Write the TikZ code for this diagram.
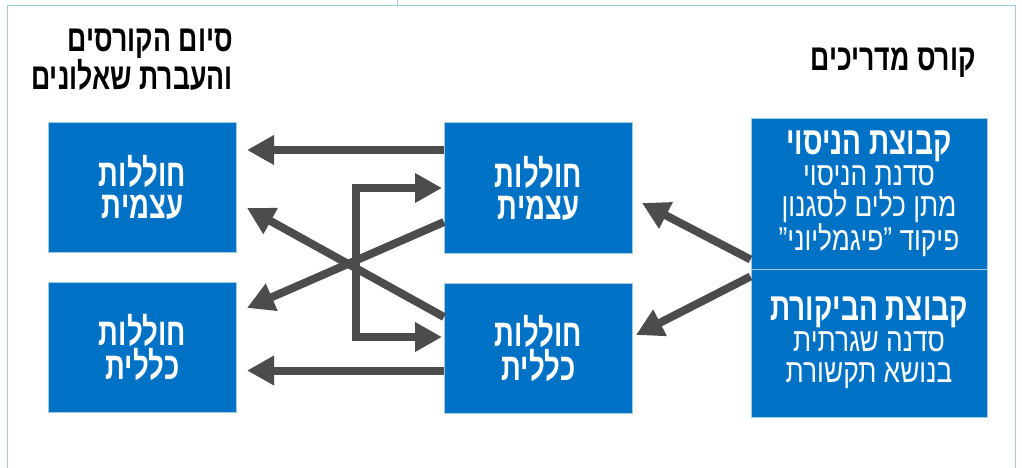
\documentclass[tikz,border=0pt]{standalone}
\usepackage{fontspec}
\usepackage{graphicx}
\setmainfont{Liberation Sans}
\newfontfamily\heb[Script=Hebrew]{Liberation Sans}
\TeXXeTstate=1
\usetikzlibrary{arrows.meta}
\newcommand\hb[2][0.92]{\scalebox{#1}[1.28]{\beginR#2\endR}}
\definecolor{boxblue}{RGB}{0,114,198}
\definecolor{framec}{RGB}{160,205,222}
\definecolor{arrowc}{RGB}{76,76,76}
\tikzset{
  bluebox/.style={draw=framec, line width=1pt, fill=boxblue, text=white,
    inner sep=0pt, align=center},
  smallbox/.style={bluebox, minimum width=188pt, minimum height=130pt,
    font=\heb\bfseries\fontsize{30}{32}\selectfont},
  groupbox/.style={bluebox, minimum width=236pt,
    font=\heb\fontsize{25.8}{31}\selectfont},
  headtext/.style={font=\heb\bfseries\fontsize{29}{35}\selectfont, text=black, inner sep=0pt},
  conn/.style={draw=arrowc, line width=8pt, line join=miter,
    -{Triangle[length=27pt,width=28pt]}},
  conn2/.style={draw=arrowc, line width=8pt, line join=miter,
    {Triangle[length=27pt,width=28pt]}-{Triangle[length=27pt,width=28pt]}},
}
\begin{document}
\begin{tikzpicture}[x=1pt,y=-1pt]
\useasboundingbox (0,0) rectangle (1022,468);
% frame
\draw[framec, line width=1pt] (7,468) -- (7,6) -- (1015,6) -- (1015,468);
\draw[framec, line width=1pt] (397,0) -- (397,6);

% headings
\node[headtext, anchor=east, align=right] (h1) at (233,60) {\hb{סיום הקורסים}\\\hb{והעברת שאלונים}};
\node[headtext, anchor=east] (h2) at (976,63) {\hb{קורס מדריכים}};

% boxes
\node[smallbox] (lt) at (142.5,187.5) {\hb{חוללות}\\\hb{עצמית}};
\node[smallbox] (lb) at (142.5,347.5) {\hb{חוללות}\\\hb{כללית}};
\node[smallbox] (mt) at (538.5,188) {\hb{חוללות}\\\hb{עצמית}};
\node[smallbox] (mb) at (538.5,348.5) {\hb{חוללות}\\\hb{כללית}};
\node[groupbox, minimum height=150pt] (rtop) at (869,194)
  {{\bfseries\fontsize{30.5}{31}\selectfont\hb{קבוצת הניסוי}}\\\hb[1.02]{סדנת הניסוי}\\\hb[1.02]{מתן כלים לסגנון}\\\hb[1.02]{פיקוד ”פיגמליוני”}};
\node[groupbox, minimum height=148pt] (rbot) at (869,343)
  {{\bfseries\fontsize{30.5}{31}\selectfont\hb{קבוצת הביקורת}}\\\hb[1.02]{סדנה שגרתית}\\\hb[1.02]{בנושא תקשורת}};

% arrows from the groups
\draw[conn] ([yshift=10pt]rtop.south west) -- ([xshift=9pt,yshift=-15pt]mt.east);
\draw[conn] ([yshift=-8pt]rbot.north west) -- ([xshift=3pt,yshift=13.5pt]mb.east);

% horizontal arrows
\coordinate (a1) at ([yshift=38pt]mt.west);
\coordinate (a2) at ([yshift=-22pt]mb.west);
\draw[conn] (a1) -- ([xshift=10pt]a1 -| lt.east);
\draw[conn] (a2) -- ([xshift=10pt]a2 -| lb.east);

% crossing arrows
\draw[conn] ([yshift=-34pt]mt.west) -- ([xshift=10pt,yshift=39.5pt]lb.east);
\draw[conn] ([yshift=31.5pt]mb.west) -- ([xshift=10pt,yshift=-20.5pt]lt.east);

% bracket
\coordinate (bx) at (356,0);
\draw[conn2, shorten <=2pt, shorten >=2pt] (mt.west) -- (mt.west -| bx) |- ([yshift=11.5pt]mb.west);
\end{tikzpicture}
\end{document}
